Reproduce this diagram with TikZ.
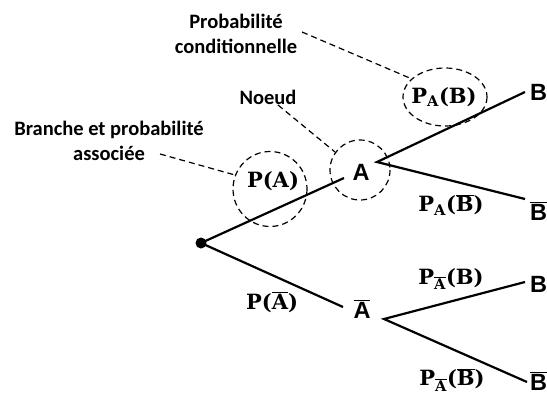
\documentclass[tikz,border=0pt]{standalone}
\usepackage{fontspec}
\setmainfont{DejaVu Serif}
\newfontfamily\callout{Carlito}
\newfontfamily\arialb{Liberation Sans}
\newfontfamily\probfont{DejaVu Serif}
\newcommand{\barA}{$\overline{\hbox{A}}$}
\newcommand{\barB}{$\overline{\hbox{B}}$}
\begin{document}
\begin{tikzpicture}[x=1pt,y=-1pt,
  branch/.style={line width=2.2pt},
  guide/.style={line width=1.2pt,dash pattern=on 6pt off 4pt},
  callouttext/.style={font=\callout\bfseries\fontsize{20.5}{25}\selectfont,align=center,inner sep=0pt},
  event/.style={font=\arialb\bfseries\fontsize{23.5}{26}\selectfont,inner sep=0pt},
  prob/.style={font=\probfont\bfseries\fontsize{21}{24}\selectfont,inner sep=0pt}]
\useasboundingbox (0,0) rectangle (547,394);
% root
\fill (201,243) circle (5.5);
\coordinate (root) at (201,243);
% event labels
\node[event] (A) at (361,172) {A};
\node[event] (Abar) at (362,309) {\barA};
\node[event,anchor=west] (B1) at (530,92) {B};
\node[event,anchor=west] (B1bar) at (530,211) {\barB};
\node[event,anchor=west] (B2) at (530,284) {B};
\node[event,anchor=west] (B2bar) at (530,381) {\barB};
% branch endpoints
\coordinate (Ain) at (344,178);
\coordinate (Aout) at (377,162);
\coordinate (B1end) at (525,92);
\coordinate (B1barend) at (525,199);
\coordinate (Abarin) at (343,307);
\coordinate (Abarout) at (384,319);
\coordinate (B2end) at (525,282);
\coordinate (B2barend) at (527,382);
\draw[branch] (root) -- (Ain);
\draw[branch] (root) -- (Abarin);
\draw[branch] (B1end) -- (Aout) -- (B1barend);
\draw[branch] (B2end) -- (Abarout) -- (B2barend);
% probabilities
\node[prob] (pA) at (273,181) {P(A)};
\node[prob] (pAbar) at (272,302) {P(\barA)};
\node[prob] (pAB) at (444,97) {P\textsubscript{A}(B)};
\node[prob] (pABbar) at (451,205) {P\textsubscript{A}(\barB)};
\node[prob] (pAbarB) at (451,279) {P\textsubscript{\barA}(B)};
\node[prob] (pAbarBbar) at (452,380) {P\textsubscript{\barA}(\barB)};
% dashed rings
\draw[guide] (270,189) ellipse (37 and 37.5);
\draw[guide] (360,170) circle (30);
\draw[guide] (445,97) ellipse (42 and 29);
\coordinate (ringA) at (235,175);
\coordinate (ringN) at (335,152);
\coordinate (ringC) at (412,79);
% callouts
\node[callouttext] (tC) at (236,34) {Probabilité\\conditionnelle};
\node[callouttext] (tN) at (268,97) {Noeud};
\node[callouttext] (tB) at (109,141) {Branche et probabilité\\associée};
\coordinate (fromC) at (302,32);
\coordinate (fromN) at (278,105);
\coordinate (fromB) at (160,154);
\draw[guide] (fromC) -- (ringC);
\draw[guide] (fromN) -- (ringN);
\draw[guide] (fromB) -- (ringA);
\end{tikzpicture}
\end{document}
